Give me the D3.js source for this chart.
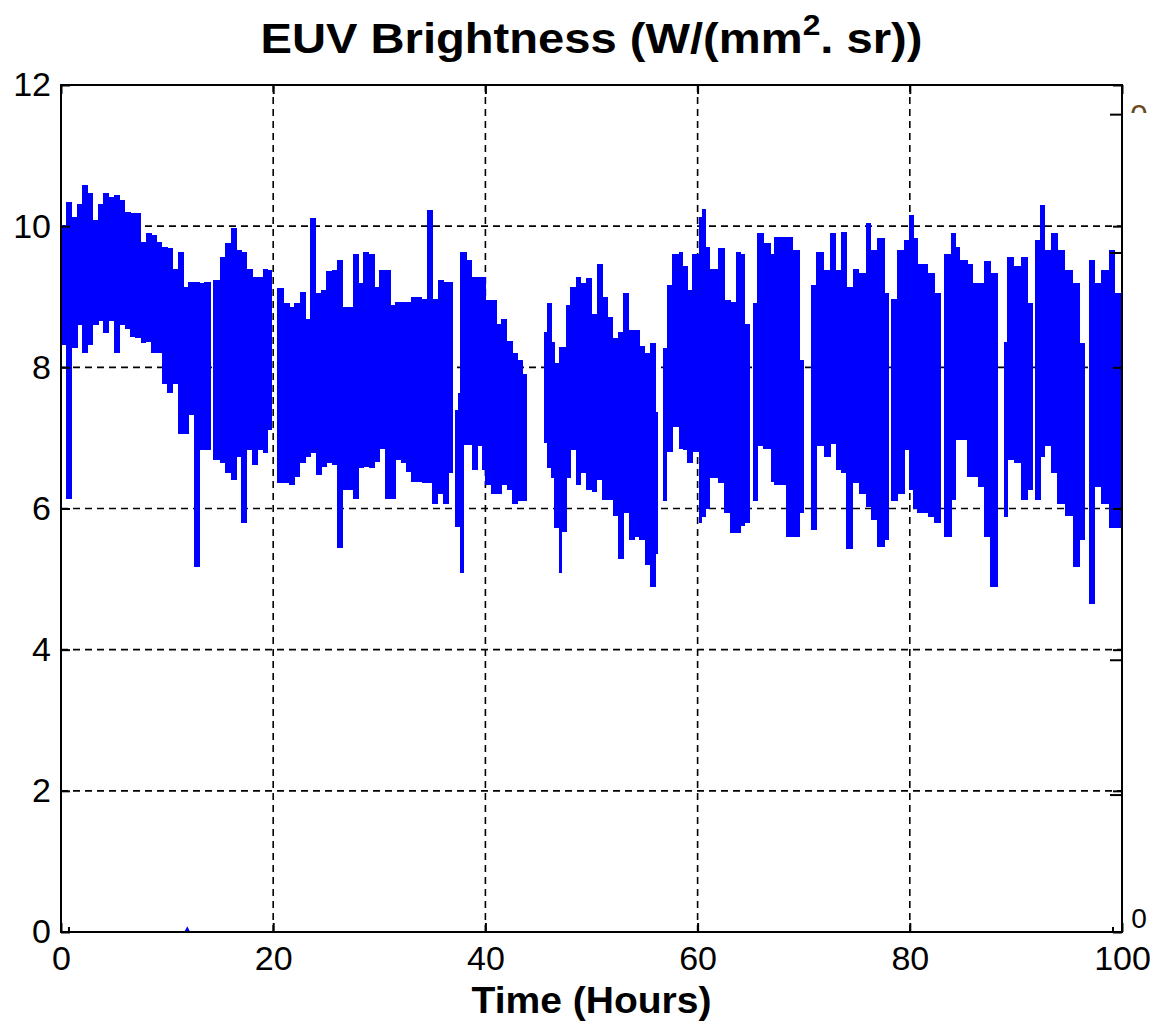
<!DOCTYPE html>
<html><head><meta charset="utf-8">
<script src="https://cdn.jsdelivr.net/npm/d3@7"></script>
<style>body{margin:0;background:#fff}text{font-family:"Liberation Sans",Arial,sans-serif}</style>
</head><body>
<svg id="chart" width="1154" height="1026"></svg>
<script>
// Envelope of the EUV brightness signal: each bin runs from hours[i] to hours[i+1] (last to endHour); null = no data
const hours = [
  0,0.5,1,1.5,2,2.5,3,3.5,4,4.5,5,5.5,6,6.5,7,7.5,8,8.5,9,9.5,10,10.5,11,11.5,12,12.5,13,13.5,
  14.1,
  14.35,15,15.5,16,16.5,17,17.5,18,18.5,19,19.5,
  19.85,
  20.4,21,21.5,22,22.5,23,23.5,24,24.5,25,25.5,26,26.5,27,27.5,28,28.5,29,29.5,30,30.5,31,31.5,32,32.5,33,33.5,34,34.5,35,35.5,36,36.5,
  36.9,
  37.15,37.45,37.65,37.95,38.2,38.7,39.2,39.7,40,40.5,41,41.5,42,42.5,43,43.5,
  43.9,
  45.55,45.8,46.2,46.5,46.9,47.2,47.6,48,48.5,49,49.5,50,50.5,51,51.5,52,52.5,53,53.5,54,54.5,55,55.5,56,
  56.25,
  56.75,57.1,57.6,58.2,58.6,59,59.5,60.1,60.4,60.75,61.1,61.5,61.9,62.5,63.1,63.6,64,64.4,
  64.85,
  65.2,65.6,66.2,66.9,67.2,67.7,68.3,68.9,69.6,
  70,
  70.65,71.2,71.9,72.5,73,73.5,74,74.6,75.2,75.9,76.3,76.95,77.6,
  77.95,
  78.2,78.8,79.5,79.9,80.3,80.7,81.2,81.7,82.3,
  82.9,
  83.25,83.9,84.3,84.7,85.4,85.9,86.4,87,87.6,
  88.3,
  88.85,89.2,89.8,90.5,91.1,
  91.6,
  91.8,92.3,92.7,93.3,93.9,94.6,95.35,96,
  96.5,
  96.85,97.4,98,98.8,99.3
];
const upperW = [
  10.02,10.34,10.13,10.32,10.58,10.47,10.09,10.32,10.47,10.42,10.44,10.37,10.2,10.18,10.18,9.78,9.9,9.87,9.78,9.71,9.69,9.4,9.64,9.14,9.21,9.21,9.19,9.21,
  null,
  9.24,9.57,9.76,9.97,9.66,9.64,9.4,9.28,9.28,9.4,9.38,
  null,
  9.12,8.91,8.86,8.91,9.07,8.69,10.11,9.05,9.1,9.36,9.38,9.52,8.86,8.86,9.6,9.19,9.64,9.6,9.14,9.38,9.38,8.88,8.93,8.93,8.93,9.0,9.0,8.97,10.23,8.97,9.24,9.21,9.21,
  null,
  7.4,7.63,9.64,9.64,9.52,9.28,9.28,9.28,8.95,8.95,8.62,8.69,8.38,8.2,8.1,7.91,
  null,
  8.5,8.91,8.36,8.06,8.29,8.29,8.88,9.14,9.28,9.2,9.26,8.76,9.47,9.0,8.72,8.41,8.5,9.05,8.53,8.53,8.3,8.2,8.34,7.37,
  null,
  8.27,9.17,9.6,9.64,9.43,9.1,9.6,10.13,10.25,9.7,9.4,9.4,9.69,8.95,8.93,9.64,9.6,8.62,
  null,
  8.91,9.9,9.76,9.6,9.85,9.85,9.85,9.66,8.1,
  null,
  9.17,9.64,9.38,9.9,9.38,9.92,9.14,9.4,9.33,10.04,9.66,9.83,9.05,
  null,
  8.97,9.66,9.8,10.16,9.83,9.47,9.47,9.33,9.05,
  null,
  9.6,9.9,9.7,9.52,9.47,9.2,9.19,9.5,9.33,
  null,
  8.36,9.57,9.43,9.57,8.91,
  null,
  9.8,10.3,9.66,9.9,9.66,9.38,9.19,8.34,
  null,
  9.52,9.19,9.38,9.66,9.05
];
const lowerW = [
  8.32,6.14,8.27,8.6,8.21,8.32,8.6,8.65,8.48,8.65,8.21,8.6,8.55,8.43,8.41,8.34,8.36,8.21,8.2,7.77,7.63,7.77,7.06,7.06,7.32,5.17,6.83,6.83,
  null,
  6.69,6.64,6.5,6.4,6.73,5.79,6.83,6.61,6.83,6.78,7.11,
  null,
  6.36,6.36,6.33,6.45,6.64,6.73,6.78,6.47,6.59,6.64,6.61,5.44,6.26,6.26,6.14,6.57,6.59,6.57,6.66,6.85,6.14,6.14,6.69,6.64,6.52,6.38,6.38,6.36,6.36,6.07,6.21,6.07,6.5,
  null,
  5.74,5.74,5.08,6.9,6.9,6.55,6.88,6.55,6.33,6.21,6.21,6.33,6.26,6.07,6.1,6.1,
  null,
  6.93,6.57,6.43,5.72,5.09,5.67,6.43,6.83,6.33,6.5,6.26,6.24,6.4,6.12,6.12,5.9,5.29,5.93,5.55,5.6,5.55,5.2,4.89,5.36,
  null,
  6.1,6.8,7.16,6.85,6.83,6.64,6.8,5.79,5.88,6.0,6.43,6.43,6.36,5.93,5.65,5.65,5.75,5.79,
  null,
  6.1,6.88,6.85,6.38,6.33,6.33,5.6,5.6,5.93,
  null,
  5.69,6.88,6.73,6.92,6.55,6.5,5.43,6.36,6.21,6.02,5.84,5.46,5.55,
  null,
  6.1,6.2,6.83,6.26,6.0,5.93,5.93,5.88,5.79,
  null,
  5.6,6.12,6.97,6.97,6.45,6.45,6.31,5.6,4.89,
  null,
  5.88,6.69,6.64,6.12,6.26,
  null,
  6.12,6.73,6.88,6.5,6.07,5.9,5.17,5.55,
  null,
  4.65,6.3,6.07,5.72,5.72
];
const endHour = 100;
const blipHours = [11.9];
const blipValues = [0.04];
const xTicks = [0, 20, 40, 60, 80, 100];
const yTicks = [0, 2, 4, 6, 8, 10, 12];
// stray ticks of an overlaid second axes
const secondaryRightTicks = [11.58, 9.62, 3.85, 1.94];
const secondaryBottomTicks = [0.75, 99.15];

const svg = d3.select('#chart');
const W = 1154, H = 1026;
const m = {left: 61, right: 1122, top: 85, bottom: 932};
const x = d3.scaleLinear().domain([0, 100]).range([m.left, m.right]);
const y = d3.scaleLinear().domain([0, 12]).range([m.bottom, m.top]);

svg.append('rect').attr('width', W).attr('height', H).attr('fill', '#fff');

// grid
const grid = svg.append('g').attr('stroke', '#000').attr('stroke-width', 1.6).attr('stroke-dasharray', '7,5');
grid.selectAll('.vx').data(xTicks.slice(1, -1)).join('line')
  .attr('x1', d => x(d)).attr('x2', d => x(d)).attr('y1', m.top).attr('y2', m.bottom);
grid.selectAll('.hy').data(yTicks.slice(1, -1)).join('line')
  .attr('x1', m.left).attr('x2', m.right).attr('y1', d => y(d)).attr('y2', d => y(d));

// signal envelope
const bins = hours.map((h, i) => ({
  h0: h, h1: i < hours.length - 1 ? hours[i + 1] : endHour, hi: upperW[i], lo: lowerW[i]
})).filter(d => d.hi != null && d.lo != null);
svg.append('g').attr('fill', '#0000ff').attr('shape-rendering', 'crispEdges')
  .selectAll('rect').data(bins).join('rect')
  .attr('x', d => x(d.h0)).attr('width', d => x(d.h1) - x(d.h0) + 0.6)
  .attr('y', d => y(d.hi)).attr('height', d => y(d.lo) - y(d.hi));

svg.append('g').selectAll('path').data(blipHours.map((h, i) => [h, blipValues[i]])).join('path')
  .attr('d', d => `M${x(d[0]) - 3},${y(0)} L${x(d[0])},${y(d[1]) - 3} L${x(d[0]) + 3},${y(0)} Z`)
  .attr('fill', '#0000ff');

// axes
const fs = 34;
const axLeft = svg.append('g').attr('transform', `translate(${m.left},0)`)
  .call(d3.axisLeft(y).tickValues(yTicks).tickFormat(d3.format('d')).tickSizeInner(-9).tickSizeOuter(0).tickPadding(10));
const axBottom = svg.append('g').attr('transform', `translate(0,${m.bottom})`)
  .call(d3.axisBottom(x).tickValues(xTicks).tickFormat(d3.format('d')).tickSizeInner(-9).tickSizeOuter(0).tickPadding(14));
const axRight = svg.append('g').attr('transform', `translate(${m.right},0)`)
  .call(d3.axisRight(y).tickValues(yTicks).tickFormat('').tickSizeInner(-9).tickSizeOuter(0));
const axTop = svg.append('g').attr('transform', `translate(0,${m.top})`)
  .call(d3.axisTop(x).tickValues(xTicks).tickFormat('').tickSizeInner(-9).tickSizeOuter(0));
[axLeft, axBottom, axRight, axTop].forEach(g => {
  g.select('.domain').remove();
  g.selectAll('line').attr('stroke', '#000').attr('stroke-width', 2);
  g.selectAll('text').attr('fill', '#000').style('font-size', fs + 'px').style('font-family', '"Liberation Sans", Arial, sans-serif');
});

// secondary stray ticks
svg.append('g').selectAll('line').data(secondaryRightTicks).join('line')
  .attr('x1', m.right - 12).attr('x2', m.right).attr('y1', d => y(d)).attr('y2', d => y(d))
  .attr('stroke', '#000').attr('stroke-width', 2);
svg.append('g').selectAll('line').data(secondaryBottomTicks).join('line')
  .attr('x1', d => x(d)).attr('x2', d => x(d)).attr('y1', m.bottom).attr('y2', m.bottom - 5)
  .attr('stroke', '#000').attr('stroke-width', 2);
svg.append('text').attr('x', 1139).attr('y', 928).attr('text-anchor', 'middle')
  .style('font-size', '28px').attr('fill', '#000').text('0');
svg.append('clipPath').attr('id', 'cut').append('rect').attr('x', 1120).attr('y', 95).attr('width', 34).attr('height', 18);
svg.append('text').attr('x', 1139).attr('y', 127).attr('text-anchor', 'middle').attr('clip-path', 'url(#cut)')
  .style('font-size', '32px').attr('fill', '#6a4a20').text('0');

// frame
svg.append('rect').attr('x', m.left).attr('y', m.top).attr('width', m.right - m.left).attr('height', m.bottom - m.top)
  .attr('fill', 'none').attr('stroke', '#000').attr('stroke-width', 2);

// title
const cx = (m.left + m.right) / 2;
const title = svg.append('text').attr('x', cx).attr('y', 53).attr('text-anchor', 'middle')
  .style('font-size', '43px').style('font-weight', 'bold').attr('fill', '#000')
  .attr('textLength', 662).attr('lengthAdjust', 'spacingAndGlyphs');
title.append('tspan').text('EUV Brightness (W/(mm');
title.append('tspan').attr('dy', -18).style('font-size', '29px').text('2');
title.append('tspan').attr('dy', 18).text('. sr))');

svg.append('text').attr('x', cx).attr('y', 1013).attr('text-anchor', 'middle')
  .style('font-size', '36px').style('font-weight', 'bold').attr('fill', '#000')
  .attr('textLength', 240).attr('lengthAdjust', 'spacingAndGlyphs')
  .text('Time (Hours)');
</script>
</body></html>
